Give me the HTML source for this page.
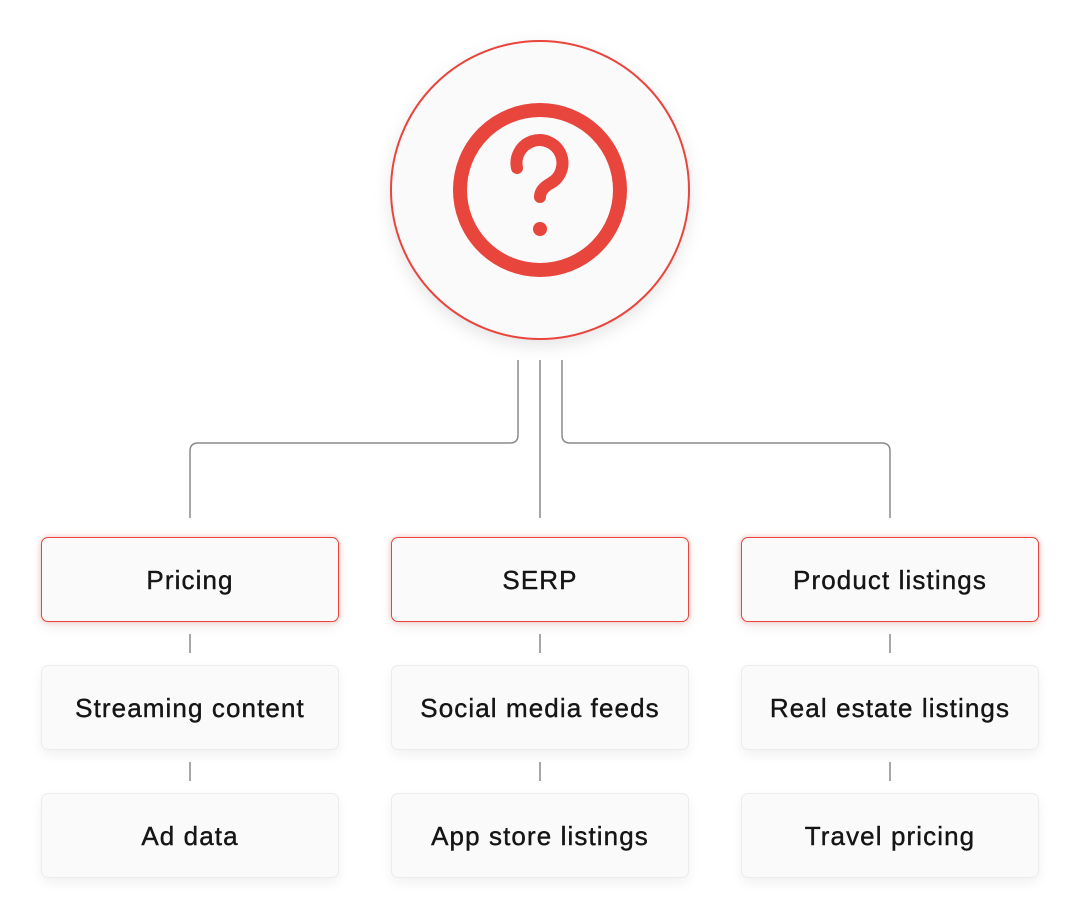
<!DOCTYPE html>
<html><head><meta charset="utf-8"><style>
html,body{margin:0;padding:0;background:#fff;}
body{width:1080px;height:920px;position:relative;overflow:hidden;font-family:"Liberation Sans",Arial,sans-serif;}
.box{position:absolute;width:298px;height:85px;box-sizing:border-box;border-radius:7px;background:#fafafa;display:flex;align-items:center;justify-content:center;font-size:26px;letter-spacing:1.1px;color:#151515;-webkit-text-stroke:0.4px #151515;padding-top:2px;}
.r{border:1.5px solid #e8453c;box-shadow:0 0 6px rgba(232,69,60,0.35),0 6px 14px rgba(0,0,0,0.06);}
.g{border:1px solid #ececec;box-shadow:0 5px 12px rgba(0,0,0,0.06);}
</style></head><body>
<svg width="1080" height="920" style="position:absolute;left:0;top:0">
<defs><filter id="sh" x="-20%" y="-20%" width="140%" height="140%"><feDropShadow dx="0" dy="6" stdDeviation="8" flood-color="#000" flood-opacity="0.1"/></filter></defs>
<circle cx="540" cy="190" r="149" fill="#fafafa" stroke="#e8453c" stroke-width="2" filter="url(#sh)"/>
<circle cx="540" cy="190" r="80" fill="none" stroke="#e8453c" stroke-width="14"/>
<path d="M517 168 A23 23 0 1 1 551 183 Q540 189 540 197" fill="none" stroke="#e8453c" stroke-width="12" stroke-linecap="round"/>
<circle cx="540" cy="229" r="7" fill="#e8453c"/>
<g fill="none" stroke="#8a8a8a" stroke-width="1.5">
<path d="M518 360 V435 Q518 443 510 443 H198 Q190 443 190 451 V518"/>
<path d="M540 360 V518"/>
<path d="M562 360 V435 Q562 443 570 443 H882 Q890 443 890 451 V518"/>
<path d="M190 634 V653 M540 634 V653 M890 634 V653 M190 762 V781 M540 762 V781 M890 762 V781"/>
</g>
</svg>
<div class="box r" style="left:41px;top:537px">Pricing</div>
<div class="box r" style="left:391px;top:537px">SERP</div>
<div class="box r" style="left:741px;top:537px">Product listings</div>
<div class="box g" style="left:41px;top:665px">Streaming content</div>
<div class="box g" style="left:391px;top:665px">Social media feeds</div>
<div class="box g" style="left:741px;top:665px">Real estate listings</div>
<div class="box g" style="left:41px;top:793px">Ad data</div>
<div class="box g" style="left:391px;top:793px">App store listings</div>
<div class="box g" style="left:741px;top:793px">Travel pricing</div>
</body></html>
